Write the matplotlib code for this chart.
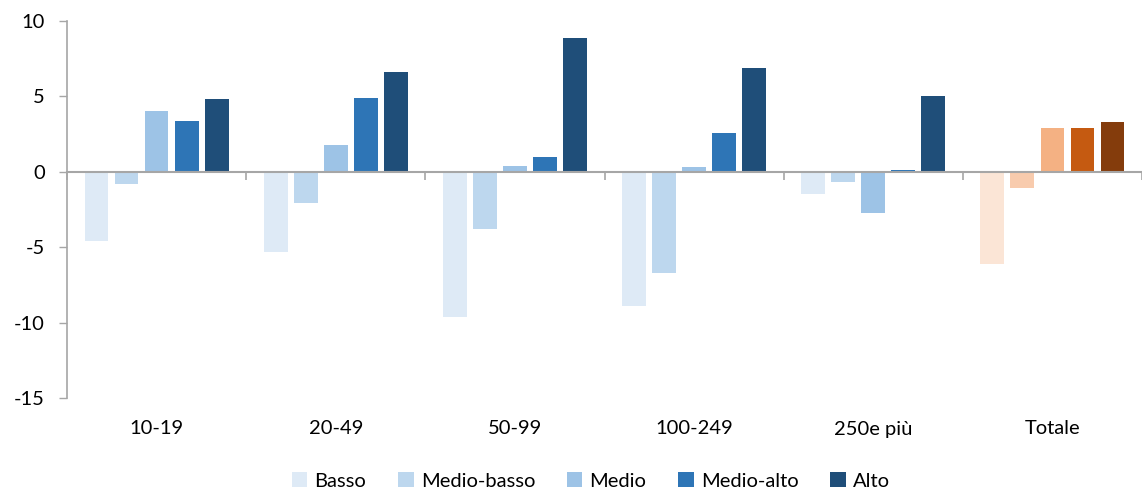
import matplotlib
matplotlib.use("Agg")
import matplotlib.pyplot as plt
from matplotlib.patches import Patch
from matplotlib.transforms import blended_transform_factory
import numpy as np

categories = ["10-19", "20-49", "50-99", "100-249", "250e più", "Totale"]
levels = ["Basso", "Medio-basso", "Medio", "Medio-alto", "Alto"]
values = {
    "Basso":       [-4.6, -5.3, -9.6, -8.9, -1.5, -6.1],
    "Medio-basso": [-0.8, -2.1, -3.8, -6.7, -0.7, -1.1],
    "Medio":       [4.0, 1.8, 0.4, 0.3, -2.7, 2.9],
    "Medio-alto":  [3.4, 4.9, 1.0, 2.6, 0.1, 2.9],
    "Alto":        [4.8, 6.6, 8.9, 6.9, 5.0, 3.3],
}
blues = ["#DEEAF6", "#BDD7EE", "#9DC3E6", "#2E75B6", "#1F4E79"]
oranges = ["#FBE5D6", "#F8CBAD", "#F4B183", "#C55A11", "#843C0C"]

plt.rcParams["font.family"] = ["Lato", "DejaVu Sans"]
plt.rcParams["axes.unicode_minus"] = False

W, H = 1142, 492
fig = plt.figure(figsize=(W / 100, H / 100), dpi=100)
ax = fig.add_axes([67 / W, (H - 398) / H, 1 - 67 / W, (398 - 21) / H])

group_px = 180.6
pitch = 30.3 / group_px
width = 24.0 / group_px
x = np.arange(len(categories))
n_total = len(categories) - 1

for j, lvl in enumerate(levels):
    cols = [blues[j]] * n_total + [oranges[j]]
    ax.bar(x + (j - 2) * pitch, values[lvl], width=width, color=cols,
           edgecolor="none", zorder=2)

axis_gray = "#A6A6A6"
fs = 14.5
ax.set_ylim(-15, 10)
ax.set_xlim(-0.5, -0.5 + (W - 67) / group_px)
ax.set_yticks([10, 5, 0, -5, -10, -15])
ax.tick_params(axis="y", length=6, width=1, color=axis_gray, labelsize=fs,
               pad=10, labelcolor="#000000")

for s in ["top", "right"]:
    ax.spines[s].set_visible(False)
ax.spines["left"].set_color(axis_gray)
ax.spines["left"].set_linewidth(1.2)
ax.spines["bottom"].set_position(("data", 0))
ax.spines["bottom"].set_color(axis_gray)
ax.spines["bottom"].set_linewidth(1.5)
ax.spines["bottom"].set_zorder(3)

# group separators hang below the zero line; labels sit under the plot
ax.set_xticks(np.arange(-0.5, len(categories)))
ax.set_xticklabels([])
ax.tick_params(axis="x", direction="out", length=6, width=1.2, color=axis_gray)

trans = blended_transform_factory(ax.transData, ax.transAxes)
for i, c in enumerate(categories):
    ax.text(i, -31 / 377, c, transform=trans, ha="center", va="center", fontsize=fs)

handles = [Patch(facecolor=blues[j], edgecolor="none") for j in range(len(levels))]
fig.legend(handles, levels, loc="center", bbox_to_anchor=(591 / W, (H - 481) / H),
           ncol=5, frameon=False, fontsize=fs, handlelength=0.75, handleheight=0.75,
           handletextpad=0.35, columnspacing=1.6)

fig.savefig("out.png", dpi=100)
